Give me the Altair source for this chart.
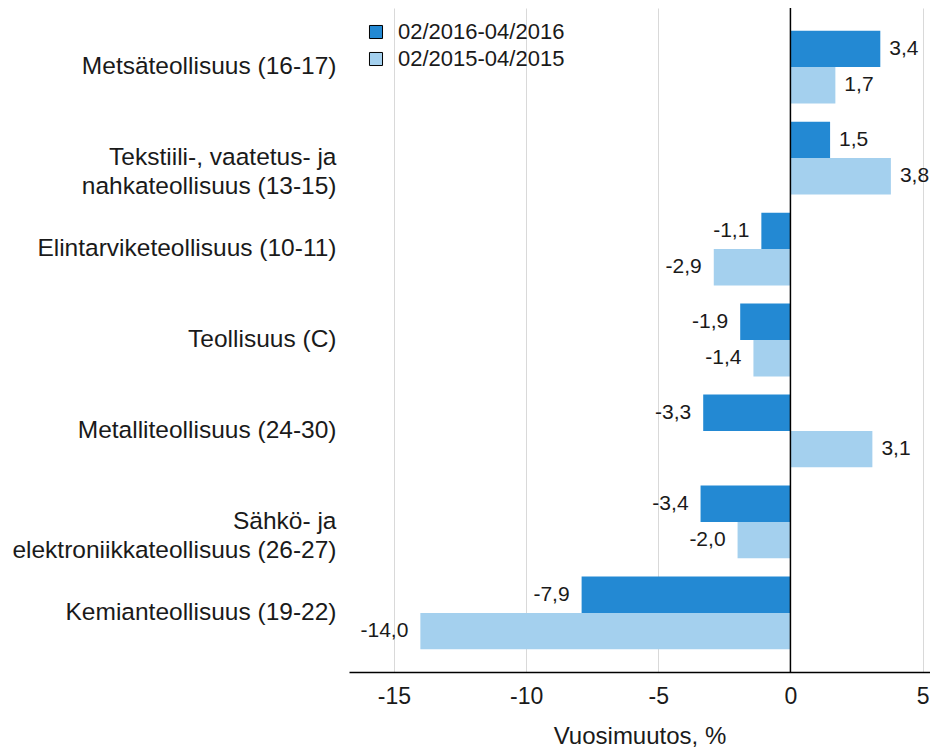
import altair as alt
import pandas as pd

categories = [
    "Metsäteollisuus (16-17)",
    "Tekstiili-, vaatetus- ja|nahkateollisuus (13-15)",
    "Elintarviketeollisuus (10-11)",
    "Teollisuus (C)",
    "Metalliteollisuus (24-30)",
    "Sähkö- ja|elektroniikkateollisuus (26-27)",
    "Kemianteollisuus (19-22)",
]
series = ["02/2016-04/2016", "02/2015-04/2015"]
values_2016 = [3.4, 1.5, -1.1, -1.9, -3.3, -3.4, -7.9]
values_2015 = [1.7, 3.8, -2.9, -1.4, 3.1, -2.0, -14.0]
colors = ["#2389d3", "#a4d0ee"]
x_ticks = [-15, -10, -5, 0, 5]

rows = []
for c, a, b in zip(categories, values_2016, values_2015):
    for s, v in zip(series, (a, b)):
        rows.append({"cat": c, "series": s, "value": v,
                     "label": f"{v:.1f}".replace(".", ",")})
df = pd.DataFrame(rows)

FONT = "Liberation Sans"
TXT = "#1a1a1a"

y_enc = alt.Y("cat:N", sort=categories, title=None,
              scale=alt.Scale(paddingInner=0.2, paddingOuter=0.25),
              axis=alt.Axis(labelExpr="split(datum.label, '|')", labelFontSize=24.5,
                            labelLineHeight=29, labelPadding=13, ticks=False,
                            domain=False, grid=False, labelColor=TXT,
                            labelFont=FONT, labelLimit=400))
yoff = alt.YOffset("series:N", sort=series, scale=alt.Scale(paddingInner=0, paddingOuter=0))
x_scale = alt.Scale(domain=[-16.7, 5.28], nice=False, zero=False)

base = alt.Chart(df)

bars = base.mark_bar().encode(
    x=alt.X("value:Q", scale=x_scale, title="Vuosimuutos, %",
            axis=alt.Axis(values=x_ticks, labelExpr="datum.value + ''", ticks=False,
                          labelFontSize=23, labelPadding=13, titleFontSize=24,
                          titleFontWeight="normal", titlePadding=16,
                          domainColor="#000000", domainWidth=1.5,
                          gridColor="#d9d9d9", gridWidth=1,
                          labelColor=TXT, titleColor=TXT,
                          labelFont=FONT, titleFont=FONT)),
    y=y_enc,
    yOffset=yoff,
    color=alt.Color("series:N", sort=series,
                    scale=alt.Scale(domain=series, range=colors),
                    legend=alt.Legend(title=None, orient="none", legendX=16, legendY=13,
                                      symbolType="square", symbolSize=170,
                                      symbolStrokeColor="#000000", symbolStrokeWidth=1,
                                      labelFontSize=22, labelFont=FONT, labelColor=TXT,
                                      rowPadding=5, labelOffset=11, labelLimit=400)),
)

pos_text = base.transform_filter("datum.value >= 0").mark_text(
    align="left", baseline="middle", dx=9, fontSize=21, font=FONT, color=TXT
).encode(x="value:Q", y=alt.Y("cat:N", sort=categories), yOffset=yoff, text="label:N")

neg_text = base.transform_filter("datum.value < 0").mark_text(
    align="right", baseline="middle", dx=-12, fontSize=21, font=FONT, color=TXT
).encode(x="value:Q", y=alt.Y("cat:N", sort=categories), yOffset=yoff, text="label:N")

zero = alt.Chart(pd.DataFrame({"z": [0]})).mark_rule(color="#000000", strokeWidth=1.5).encode(
    x="z:Q"
)

chart = alt.layer(bars, pos_text, neg_text, zero).properties(
    width=581, height=664,
    autosize=alt.AutoSizeParams(type="none"),
    padding={"left": 341, "top": 0, "right": 0, "bottom": 76},
).configure_view(stroke=None)

chart.save("out.html", embed_options={"renderer": "svg", "actions": False})
